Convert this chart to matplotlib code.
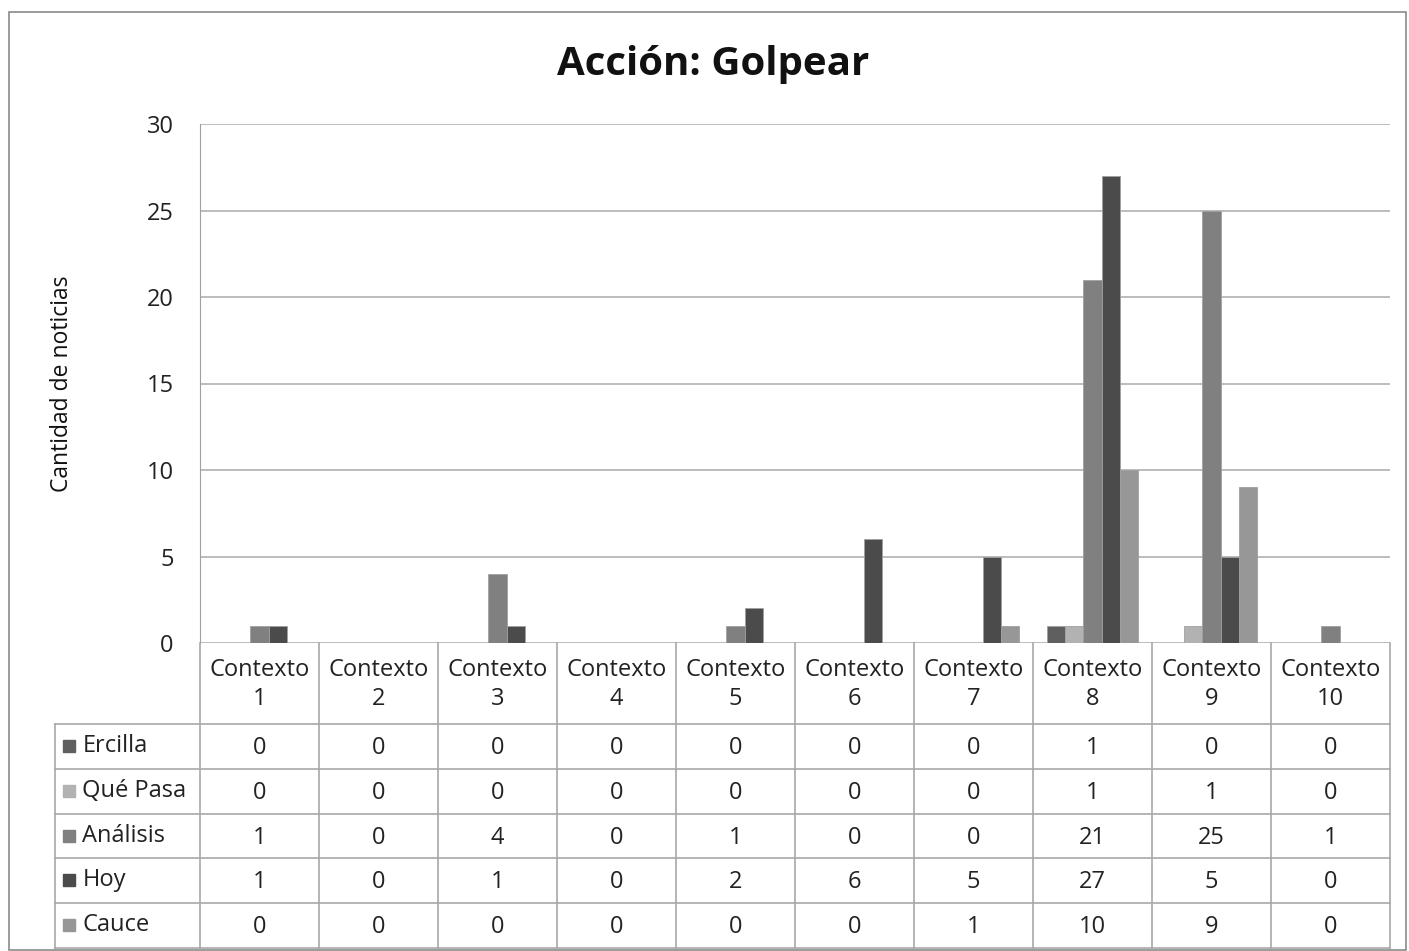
import matplotlib
matplotlib.use("Agg")
import matplotlib.pyplot as plt
from matplotlib.patches import Rectangle
import numpy as np

plt.rcParams['font.family'] = ['Open Sans', 'DejaVu Sans']

categories = ["Contexto\n1", "Contexto\n2", "Contexto\n3", "Contexto\n4", "Contexto\n5",
              "Contexto\n6", "Contexto\n7", "Contexto\n8", "Contexto\n9", "Contexto\n10"]
series_names = ["Ercilla", "Qué Pasa", "Análisis", "Hoy", "Cauce"]
ercilla = [0, 0, 0, 0, 0, 0, 0, 1, 0, 0]
que_pasa = [0, 0, 0, 0, 0, 0, 0, 1, 1, 0]
analisis = [1, 0, 4, 0, 1, 0, 0, 21, 25, 1]
hoy = [1, 0, 1, 0, 2, 6, 5, 27, 5, 0]
cauce = [0, 0, 0, 0, 0, 0, 1, 10, 9, 0]
series = [ercilla, que_pasa, analisis, hoy, cauce]
colors = ["#5f5f5f", "#b2b2b2", "#808080", "#4b4b4b", "#979797"]
yticks = [0, 5, 10, 15, 20, 25, 30]

W, H = 1409, 951
fig = plt.figure(figsize=(W / 100, H / 100), dpi=100)
fig.patch.set_facecolor("white")

# outer border
fig.add_artist(Rectangle((9 / W, 1 - 950 / H), (1406 - 9) / W, (950 - 12) / H,
                         transform=fig.transFigure, fill=False, edgecolor="#8a8a8a", lw=1.2))

pl, pr, pt, pb = 200, 1390, 124, 643
ax = fig.add_axes([pl / W, 1 - pb / H, (pr - pl) / W, (pb - pt) / H])
n = len(categories)
k = len(series)
x = np.arange(n)
group = 0.765
bw = group / k
for i, (name, vals, c) in enumerate(zip(series_names, series, colors)):
    ax.bar(x - group / 2 + bw * (i + 0.5), vals, width=bw, color=c,
           edgecolor="#a0a0a0", linewidth=0.6, zorder=3)
ax.set_xlim(-0.5, n - 0.5)
ax.set_ylim(0, 30)
ax.set_yticks(yticks)
ax.set_yticklabels([str(t) for t in yticks], fontsize=17, color="#222222")
ax.yaxis.grid(True, color="#b0b0b0", linewidth=1.2, zorder=0)
ax.set_xticks([])
for s in ["top", "right", "bottom"]:
    ax.spines[s].set_visible(False)
ax.spines["left"].set_color("#a0a0a0")
ax.tick_params(axis="y", length=0, pad=19)
fig.text(62 / W, 1 - 384 / H, "Cantidad de noticias", fontsize=16.5, rotation=90,
         ha="center", va="center", color="#111111")

fig.text((557 + 870) / 2 / W, 1 - 65 / H, "Acción: Golpear", fontsize=29, fontweight="bold",
         ha="center", va="center", color="#111111")

# data table
tl, tt, tbm = 55, 643, 948
tax = fig.add_axes([tl / W, 1 - tbm / H, (pr - tl) / W, (tbm - tt) / H])
unit = (pr - pl) / n
left_x = -0.5 - (pl - tl) / unit
tax.set_xlim(left_x, n - 0.5)
header_h = 81
row_h = (tbm - tt - header_h) / k
tax.set_ylim(tbm - tt, 0)
tax.axis("off")
lc = "#a8a8a8"
for j in range(n + 1):
    tax.plot([j - 0.5, j - 0.5], [0, tbm - tt], color=lc, lw=1.2, clip_on=False)
tax.plot([left_x, left_x], [header_h, tbm - tt], color=lc, lw=1.2, clip_on=False)
for r in range(k + 1):
    yy = header_h + r * row_h
    tax.plot([left_x, n - 0.5], [yy, yy], color=lc, lw=1.2, clip_on=False)
for j, cat in enumerate(categories):
    tax.text(j, header_h / 2 + 1, cat, ha="center", va="center", fontsize=17,
             color="#222222", linespacing=1.32)
for r, (name, vals, c) in enumerate(zip(series_names, series, colors)):
    yc = header_h + (r + 0.5) * row_h
    tax.add_patch(Rectangle((left_x + 0.07, yc - 6.5), 0.1, 12, color=c, clip_on=False))
    tax.text(left_x + 0.23, yc - 0.5, name, ha="left", va="center", fontsize=17, color="#222222")
    for j, v in enumerate(vals):
        tax.text(j, yc + 1.5, str(v), ha="center", va="center", fontsize=17, color="#222222")

fig.savefig("out.png", dpi=100, facecolor="white")
